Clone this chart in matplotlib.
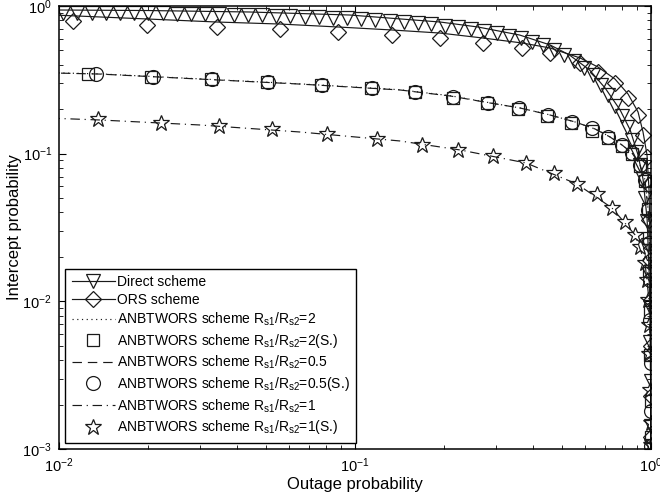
import matplotlib
matplotlib.use("Agg")
import matplotlib.pyplot as plt
from matplotlib.lines import Line2D

plt.rcParams['font.family'] = ['Liberation Sans', 'DejaVu Sans']
plt.rcParams['mathtext.default'] = 'regular'

# Direct scheme (theory line and simulated points)
direct_line_x = [0.0095, 0.02, 0.044, 0.096, 0.194, 0.26, 0.36, 0.456, 0.53, 0.62,
                 0.70, 0.786, 0.85, 0.904, 0.94, 0.97, 0.985, 0.993, 0.998, 0.9995]
direct_line_y = [0.94, 0.932, 0.911, 0.869, 0.779, 0.721, 0.636, 0.545, 0.466, 0.369,
                 0.278, 0.198, 0.145, 0.098, 0.067, 0.036, 0.016, 0.0064, 0.002, 0.0009]
direct_sim_x = [0.0103, 0.0115, 0.0129, 0.0144, 0.0161, 0.0179, 0.0200, 0.0224, 0.0250, 0.0279,
                0.0312, 0.0348, 0.0389, 0.0434, 0.0485, 0.0542, 0.0605, 0.0676, 0.0755, 0.0843,
                0.0942, 0.105, 0.117, 0.131, 0.146, 0.163, 0.181, 0.201, 0.223, 0.247,
                0.273, 0.301, 0.331, 0.363, 0.397, 0.433, 0.471, 0.510, 0.551, 0.593,
                0.635, 0.677, 0.718, 0.758, 0.796, 0.831, 0.863, 0.891, 0.915, 0.936,
                0.953, 0.966, 0.977, 0.985, 0.990, 0.994, 0.996, 0.998, 0.999]
direct_sim_y = [0.898, 0.898, 0.897, 0.896, 0.895, 0.894, 0.892, 0.890, 0.888, 0.886,
                0.883, 0.880, 0.876, 0.871, 0.865, 0.860, 0.855, 0.849, 0.842, 0.836,
                0.829, 0.819, 0.809, 0.797, 0.784, 0.769, 0.754, 0.737, 0.721, 0.700,
                0.678, 0.656, 0.630, 0.605, 0.573, 0.541, 0.506, 0.468, 0.425, 0.382,
                0.339, 0.291, 0.248, 0.210, 0.181, 0.151, 0.124, 0.102, 0.084, 0.067,
                0.050, 0.035, 0.024, 0.0153, 0.0091, 0.0053, 0.0029, 0.00143, 0.00105]

# ORS scheme
ors_line_x = [0.0095, 0.01983, 0.0342, 0.0558, 0.0876, 0.1334, 0.1937, 0.2706, 0.3666, 0.4557,
              0.5756, 0.6622, 0.7557, 0.8362, 0.904, 0.9397, 0.9694, 0.9845, 0.9924, 0.999, 0.9998]
ors_line_y = [0.87, 0.817, 0.779, 0.755, 0.721, 0.688, 0.656, 0.607, 0.562, 0.520,
              0.445, 0.386, 0.320, 0.2536, 0.1915, 0.140, 0.098, 0.0568, 0.026, 0.0075, 0.0009]
ors_sim_x = [0.01115, 0.01983, 0.0342, 0.0558, 0.0876, 0.1334, 0.1937, 0.2706, 0.3666, 0.4557,
             0.5756, 0.6622, 0.7557, 0.8362, 0.904, 0.9397, 0.9694, 0.981, 0.988, 0.992,
             0.996, 0.998, 0.999, 0.9995]
ors_sim_y = [0.791, 0.744, 0.721, 0.699, 0.667, 0.636, 0.607, 0.562, 0.520, 0.481,
             0.411, 0.357, 0.301, 0.238, 0.183, 0.134, 0.095, 0.0612, 0.0356, 0.0191,
             0.0102, 0.0050, 0.0023, 0.0012]

# ANBTWORS, Rs1/Rs2 = 2 and 0.5 (theory)
anb2_line_x = [0.008, 0.01376, 0.02996, 0.0652, 0.1419, 0.2094, 0.2858, 0.3609, 0.4557, 0.5536,
               0.6468, 0.7271, 0.798, 0.8626, 0.9179, 0.9543, 0.9772, 0.9924, 0.998, 0.9995]
anb2_line_y = [0.356, 0.347, 0.321, 0.297, 0.271, 0.247, 0.221, 0.204, 0.183, 0.164,
               0.147, 0.130, 0.1145, 0.101, 0.084, 0.0665, 0.0418, 0.0192, 0.0065, 0.001]
anb05_line_x = [0.008, 0.01376, 0.02996, 0.0652, 0.1419, 0.2094, 0.2858, 0.3609, 0.4557, 0.5536,
                0.6468, 0.7271, 0.798, 0.8626, 0.9179, 0.9543, 0.9772, 0.9924, 0.998, 0.9995]
anb05_line_y = [0.355, 0.346, 0.320, 0.296, 0.270, 0.246, 0.2204, 0.2039, 0.1828, 0.164,
                0.147, 0.1297, 0.1145, 0.1011, 0.0839, 0.0664, 0.0416, 0.0191, 0.0064, 0.001]
# ANBTWORS, Rs1/Rs2 = 2 and 0.5 (simulation)
anb2_sim_x = [0.01253, 0.0205, 0.0326, 0.0505, 0.0770, 0.1135, 0.1590, 0.2135, 0.2800, 0.356,
              0.446, 0.538, 0.630, 0.713, 0.795, 0.860, 0.916, 0.952, 0.976, 0.983,
              0.988, 0.992, 0.995, 0.9975, 0.9992]
anb2_sim_y = [0.346, 0.331, 0.319, 0.305, 0.290, 0.277, 0.260, 0.240, 0.219, 0.202,
              0.181, 0.162, 0.142, 0.128, 0.113, 0.100, 0.083, 0.065, 0.042, 0.027,
              0.016, 0.0085, 0.0043, 0.0021, 0.0012]
anb05_sim_x = [0.01334, 0.0208, 0.0329, 0.0508, 0.0773, 0.1141, 0.1595, 0.2143, 0.2813, 0.358,
               0.4487, 0.5409, 0.632, 0.7155, 0.798, 0.8626, 0.918, 0.954, 0.977, 0.984,
               0.989, 0.993, 0.996, 0.998, 0.9993]
anb05_sim_y = [0.346, 0.3307, 0.320, 0.3058, 0.2918, 0.2786, 0.2617, 0.242, 0.2204, 0.2039,
               0.1828, 0.164, 0.1493, 0.1297, 0.1145, 0.1011, 0.0839, 0.0664, 0.0416, 0.025,
               0.014, 0.0075, 0.0038, 0.0018, 0.00105]

# ANBTWORS, Rs1/Rs2 = 1
anb1_line_x = [0.008, 0.01376, 0.02996, 0.0652, 0.1419, 0.2263, 0.3782, 0.5623, 0.738, 0.8828,
               0.9543, 0.9845, 0.996, 0.9995]
anb1_line_y = [0.176, 0.1691, 0.1564, 0.1402, 0.1219, 0.106, 0.0865, 0.0623, 0.0429, 0.0282,
               0.0182, 0.0102, 0.004, 0.001]
anb1_sim_x = [0.01354, 0.0221, 0.0347, 0.0524, 0.0804, 0.1187, 0.1684, 0.2229, 0.2925, 0.3782,
              0.4702, 0.5623, 0.6571, 0.738, 0.8168, 0.8828, 0.918, 0.9543, 0.9694, 0.977,
              0.9845, 0.988, 0.9924, 0.996, 0.998]
anb1_sim_y = [0.1718, 0.1614, 0.154, 0.147, 0.136, 0.1258, 0.1145, 0.106, 0.0965, 0.0865,
              0.074, 0.0623, 0.0533, 0.0429, 0.0345, 0.0282, 0.0234, 0.0182, 0.014, 0.0102,
              0.0069, 0.0044, 0.0025, 0.0015, 0.00106]

labels = ['Direct scheme', 'ORS scheme',
          'ANBTWORS scheme R$_{s1}$/R$_{s2}$=2',
          'ANBTWORS scheme R$_{s1}$/R$_{s2}$=2(S.)',
          'ANBTWORS scheme R$_{s1}$/R$_{s2}$=0.5',
          'ANBTWORS scheme R$_{s1}$/R$_{s2}$=0.5(S.)',
          'ANBTWORS scheme R$_{s1}$/R$_{s2}$=1',
          'ANBTWORS scheme R$_{s1}$/R$_{s2}$=1(S.)']

lc = '#1a1a1a'
lw = 0.85
mk = dict(color=lc, mfc='none', mec=lc, mew=0.9, linestyle='none')

fig = plt.figure(figsize=(6.6, 4.97), dpi=100)
ax = fig.add_axes([0.0894, 0.0966, 0.8970, 0.8913])

ax.plot(direct_line_x, direct_line_y, color=lc, lw=lw)
ax.plot(direct_sim_x, direct_sim_y, marker='v', ms=10, **mk)
ax.plot(ors_line_x, ors_line_y, color=lc, lw=lw)
ax.plot(ors_sim_x, ors_sim_y, marker='D', ms=8.5, **mk)

dotted = (1, 3)
dashed = (8, 5)
dashdot = (8, 4, 1, 4)
ax.plot(anb2_line_x, anb2_line_y, color=lc, lw=lw, dashes=dotted)
ax.plot(anb2_sim_x, anb2_sim_y, marker='s', ms=8.5, **mk)
ax.plot(anb05_line_x, anb05_line_y, color=lc, lw=lw, dashes=dashed)
ax.plot(anb05_sim_x, anb05_sim_y, marker='o', ms=10, **mk)
ax.plot(anb1_line_x, anb1_line_y, color=lc, lw=lw, dashes=dashdot)
ax.plot(anb1_sim_x, anb1_sim_y, marker='*', ms=12, **mk)

ax.set_xscale('log')
ax.set_yscale('log')
ax.set_xlim(0.01, 1)
ax.set_ylim(0.001, 1)

ax.tick_params(which='both', direction='in', top=True, right=True, colors='k', labelsize=10.5)
ax.tick_params(which='major', length=5, width=0.8)
ax.tick_params(which='minor', length=3, width=0.6)
ax.tick_params(axis='x', pad=5)
ax.tick_params(axis='y', pad=5)
for s in ax.spines.values():
    s.set_linewidth(1.1)

ax.set_xlabel('Outage probability', fontsize=12, labelpad=2)
ax.set_ylabel('Intercept probability', fontsize=12)
ax.yaxis.set_label_coords(-0.062, 0.5)

handles = [
    Line2D([], [], color=lc, lw=lw, marker='v', ms=10, mfc='none', mec=lc, mew=0.9),
    Line2D([], [], color=lc, lw=lw, marker='D', ms=8.5, mfc='none', mec=lc, mew=0.9),
    Line2D([], [], color=lc, lw=lw, dashes=dotted),
    Line2D([], [], marker='s', ms=8.5, **mk),
    Line2D([], [], color=lc, lw=lw, dashes=dashed),
    Line2D([], [], marker='o', ms=10, **mk),
    Line2D([], [], color=lc, lw=lw, dashes=dashdot),
    Line2D([], [], marker='*', ms=12, **mk),
]
leg = ax.legend(handles, labels, loc='lower left', fontsize=10, handlelength=3.1,
                handletextpad=0.15, labelspacing=0.28, borderpad=0.45,
                borderaxespad=0.45, fancybox=False, framealpha=1, edgecolor='k')
leg.get_frame().set_linewidth(1.0)

fig.savefig('out.png', dpi=100)
